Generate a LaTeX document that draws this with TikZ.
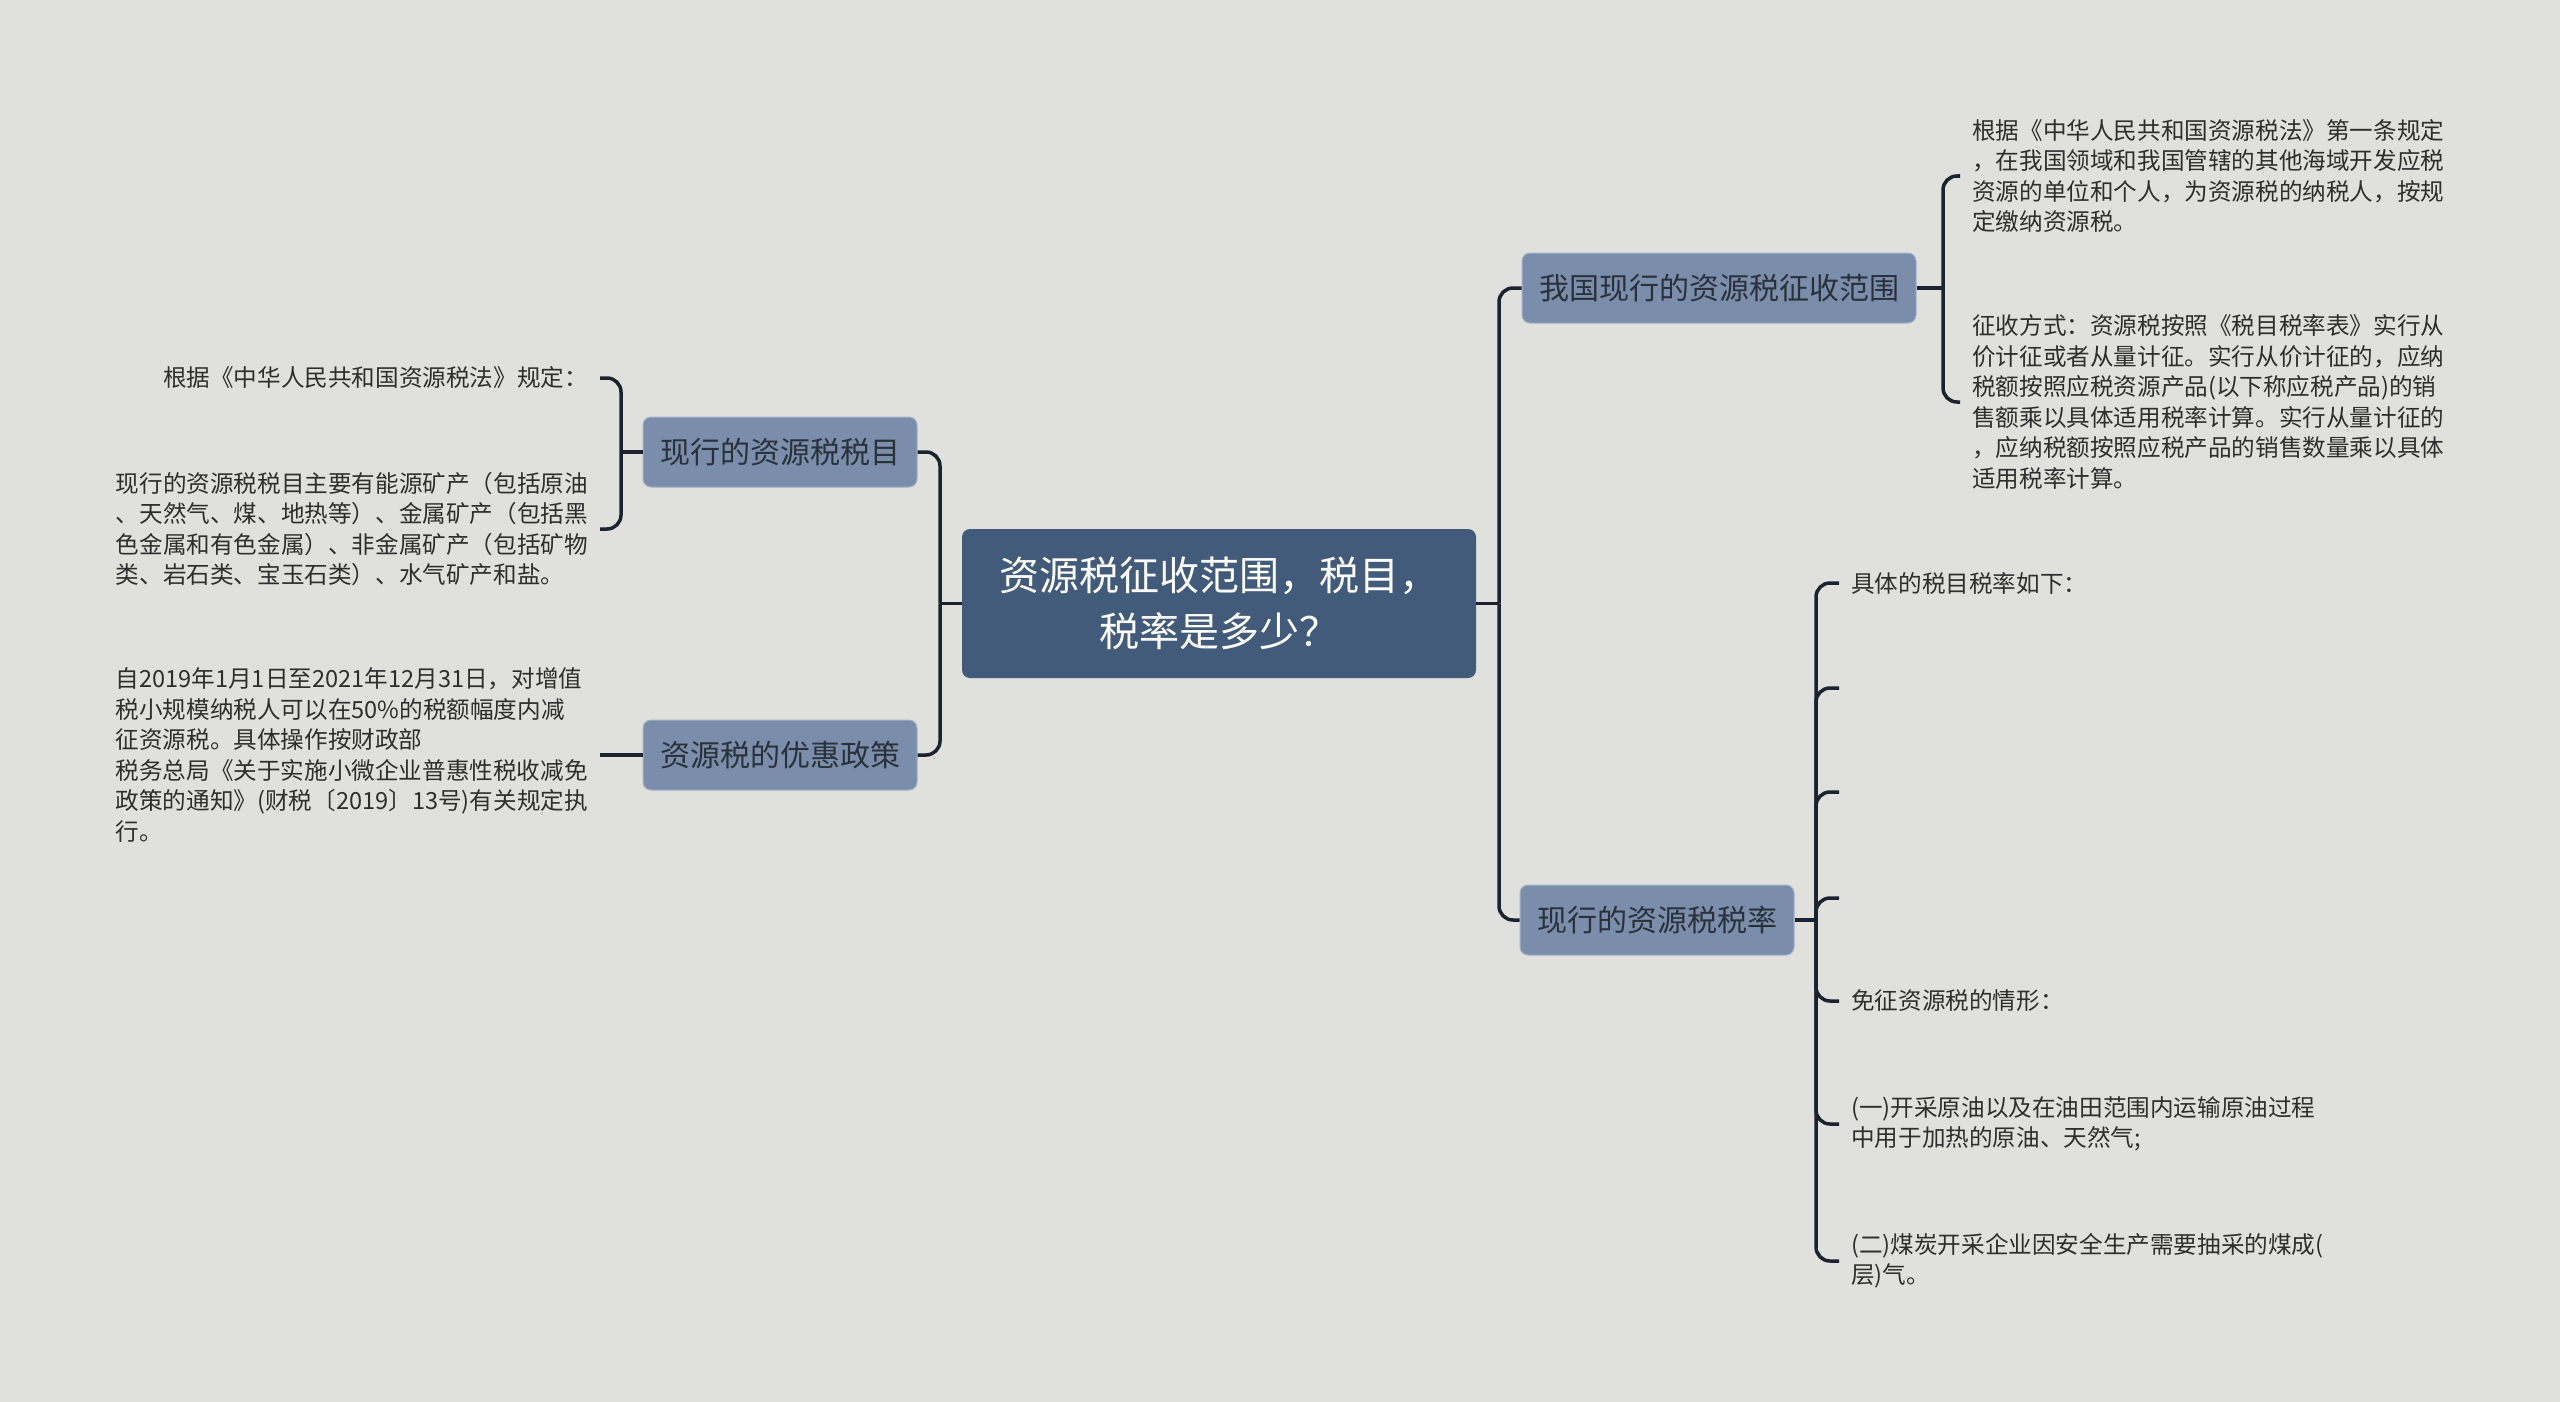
\documentclass[tikz,border=0pt]{standalone}
\usepackage{fontspec}
\setmainfont{Noto Sans CJK SC}
\definecolor{bgc}{HTML}{E0E1DC}
\definecolor{rootc}{HTML}{435B7B}
\definecolor{subc}{HTML}{7A8DAB}
\definecolor{subb}{HTML}{A3B1C6}
\definecolor{subt}{HTML}{2B313A}
\definecolor{leaft}{HTML}{2E2E2E}
\definecolor{linec}{HTML}{1B2330}
\begin{document}
\begin{tikzpicture}[x=1pt,y=-1pt,
  rootbox/.style={fill=rootc, rounded corners=8pt, text=white, font=\fontsize{40}{56}\selectfont, align=center, minimum width=514pt, minimum height=149pt, inner sep=0pt},
  subbox/.style={fill=subc, draw=subb, line width=1pt, rounded corners=8pt, text=subt, font=\fontsize{30}{36}\selectfont, minimum height=70pt, inner xsep=17pt, inner ysep=0pt},
  leaf/.style={text=leaft, font=\fontsize{23.6}{30.5}\selectfont, align=left, inner xsep=12pt, inner ysep=0pt},
  link/.style={draw=linec, line width=3.5pt},
  elbow/.style={link, rounded corners=14pt}]
\fill[bgc] (0,0) rectangle (2560,1402);
\useasboundingbox (0,0) rectangle (2560,1402);

% main nodes
\node[rootbox] (root) at (1219,603.5) {资源税征收范围，税目，\\税率是多少？};
\node[subbox] (r1) at (1719,288) {我国现行的资源税征收范围};
\node[subbox] (r2) at (1657,920) {现行的资源税税率};
\node[subbox] (l1) at (780,452) {现行的资源税税目};
\node[subbox] (l2) at (780,755) {资源税的优惠政策};

% right leaves
\node[leaf, anchor=west] (t1) at (1960,176) {根据《中华人民共和国资源税法》第一条规定\\，在我国领域和我国管辖的其他海域开发应税\\资源的单位和个人，为资源税的纳税人，按规\\定缴纳资源税。};
\node[leaf, anchor=west] (t2) at (1960,402) {征收方式：资源税按照《税目税率表》实行从\\价计征或者从量计征。实行从价计征的，应纳\\税额按照应税资源产品(以下称应税产品)的销\\售额乘以具体适用税率计算。实行从量计征的\\，应纳税额按照应税产品的销售数量乘以具体\\适用税率计算。};
\node[leaf, anchor=west] (t3) at (1839,583) {具体的税目税率如下：};
\coordinate (e1) at (1839,688);
\coordinate (e2) at (1839,792);
\coordinate (e3) at (1839,898);
\node[leaf, anchor=west] (t4) at (1839,1001) {免征资源税的情形：};
\node[leaf, anchor=west] (t5) at (1839,1124) {(一)开采原油以及在油田范围内运输原油过程\\中用于加热的原油、天然气;};
\node[leaf, anchor=west] (t6) at (1839,1261) {(二)煤炭开采企业因安全生产需要抽采的煤成(\\层)气。};

% left leaves
\node[leaf, anchor=east] (s1) at (600,378) {根据《中华人民共和国资源税法》规定：};
\node[leaf, anchor=east] (s2) at (600,529) {现行的资源税税目主要有能源矿产（包括原油\\、天然气、煤、地热等）、金属矿产（包括黑\\色金属和有色金属）、非金属矿产（包括矿物\\类、岩石类、宝玉石类）、水气矿产和盐。};
\node[leaf, anchor=east] (s3) at (600,755) {自2019年1月1日至2021年12月31日，对增值\\税小规模纳税人可以在50\%的税额幅度内减\\征资源税。具体操作按财政部\\税务总局《关于实施小微企业普惠性税收减免\\政策的通知》(财税〔2019〕13号)有关规定执\\行。};

% junctions
\coordinate (jR) at (1499,603.5);
\coordinate (jL) at (940,603.5);
\coordinate (k1) at (1943,288);
\coordinate (k2) at (1816,920);
\coordinate (k3) at (621,452);

% connectors
\draw[link] (root.east) -- (jR);
\draw[elbow] (jR) |- (r1.west);
\draw[elbow] (jR) |- (r2.west);
\draw[link] (root.west) -- (jL);
\draw[elbow] (jL) |- (l1.east);
\draw[elbow] (jL) |- (l2.east);

\draw[link] (r1.east) -- (k1);
\draw[elbow] (k1) |- (t1.west);
\draw[elbow] (k1) |- (t2.west);

\draw[link] (r2.east) -- (k2);
\draw[elbow] (k2) |- (t3.west);
\draw[elbow] (k2) |- (e1);
\draw[elbow] (k2) |- (e2);
\draw[elbow] (k2) |- (e3);
\draw[elbow] (k2) |- (t4.west);
\draw[elbow] (k2) |- (t5.west);
\draw[elbow] (k2) |- (t6.west);

\draw[link] (l1.west) -- (k3);
\draw[elbow] (k3) |- (s1.east);
\draw[elbow] (k3) |- (s2.east);
\draw[link] (l2.west) -- (s3.east);
\end{tikzpicture}
\end{document}
